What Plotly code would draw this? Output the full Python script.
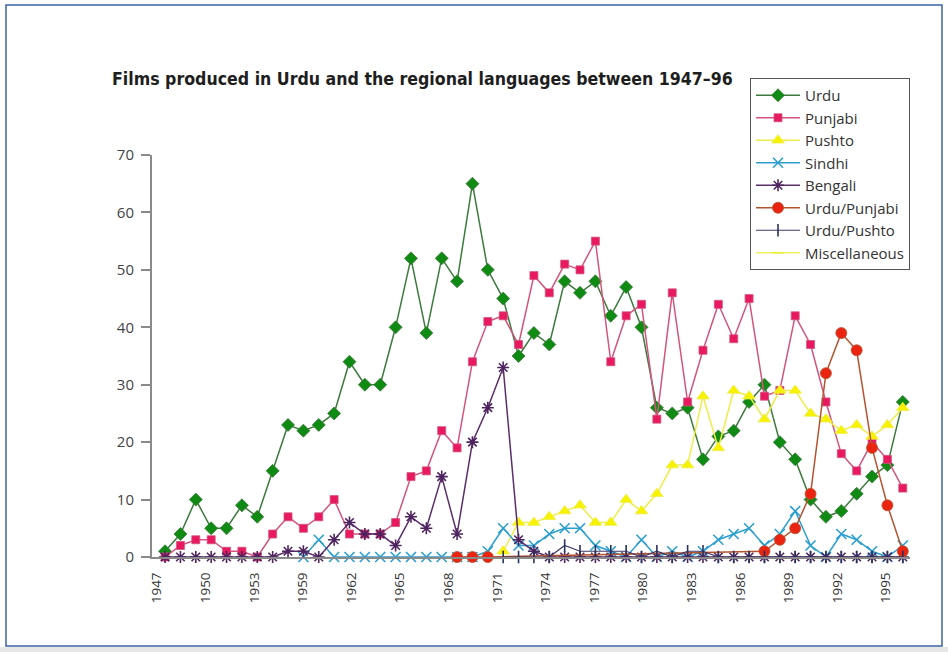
import plotly.graph_objects as go

years = [1947, 1948, 1949, 1950, 1951, 1952, 1953, 1954, 1955, 1956,
         1957, 1958, 1959, 1960, 1961, 1962, 1963, 1964, 1965, 1966,
         1967, 1968, 1969, 1970, 1971, 1972, 1973, 1974, 1975, 1976,
         1977, 1978, 1979, 1980, 1981, 1982, 1983, 1984, 1985, 1986,
         1987, 1988, 1989, 1990, 1991, 1992, 1993, 1994, 1995]

tick_labels = ["1947", "1950", "1953", "1959", "1962", "1965", "1968", "1971",
               "1974", "1977", "1980", "1983", "1986", "1989", "1992", "1995"]

N = None
urdu = [1, 4, 10, 5, 5, 9, 7, 15, 23, 22, 23, 25, 34, 30, 30, 40, 52, 39, 52, 48,
        65, 50, 45, 35, 39, 37, 48, 46, 48, 42, 47, 40, 26, 25, 26, 17, 21, 22, 27, 30,
        20, 17, 10, 7, 8, 11, 14, 16, 27]
punjabi = [0, 2, 3, 3, 1, 1, 0, 4, 7, 5, 7, 10, 4, 4, 4, 6, 14, 15, 22, 19,
           34, 41, 42, 37, 49, 46, 51, 50, 55, 34, 42, 44, 24, 46, 27, 36, 44, 38, 45, 28,
           29, 42, 37, 27, 18, 15, 20, 17, 12]
pushto = [N] * 22 + [1, 6, 6, 7, 8, 9, 6, 6, 10, 8, 11, 16, 16, 28, 19, 29, 28, 24,
                     29, 29, 25, 24, 22, 23, 21, 23, 26]
sindhi = [N] * 9 + [0, 3] + [0] * 10 + [1, 5, 2, 2, 4, 5, 5, 2, 1, 0, 3, 0, 1, 0, 1, 3,
                                        4, 5, 2, 4, 8, 2, 0, 4, 3, 1, 0, 2]
bengali = [0] * 8 + [1, 1, 0, 3, 6, 4, 4, 2, 7, 5, 14, 4, 20, 26, 33, 3, 1] + [0] * 24
urdu_punjabi = [N] * 19 + [0, 0, 0] + [N] * 17 + [1, 3, 5, 11, 32, 39, 36, 19, 9, 1]
urdu_pushto = [N] * 22 + [0, 0, 0, 0, 2, 1, 1, 1, 1, 0, 1, 0, 1, 1] + [0] * 13
misc = [N] * 49

# layout geometry (pixels)
W, H = 948, 652
ML, MR, MT, MB = 152, 38, 155, 95
PW, PH = W - ML - MR, H - MT - MB

def px_x(p):
    return (p - ML) / PW

def px_y(p):
    return (H - MB - p) / PH

# x range / tick placement matching the printed axis
x_lo, x_hi = 1946.15, 1995.47
tick_first, tick_step = 1946.48, 3.162
tickvals = [tick_first + tick_step * k for k in range(len(tick_labels))]

fig = go.Figure()

def add(name, y, color, line_color, symbol, size, open_sym=False, lw=1.5, connect=False):
    marker = dict(symbol=symbol, size=size, color=color)
    if open_sym:
        marker["line"] = dict(color=color, width=1.6)
    else:
        marker["line"] = dict(color=line_color, width=0.8)
    fig.add_trace(go.Scatter(
        x=years, y=y, name=name, mode="lines+markers",
        line=dict(color=line_color, width=lw),
        marker=marker, cliponaxis=False, connectgaps=connect))

add("Urdu", urdu, "#0f8a12", "#3d7a3d", "diamond", 10)
add("Punjabi", punjabi, "#e8195f", "#d2557e", "square", 8)
add("Pushto", pushto, "#f7f200", "#efec4a", "triangle-up", 11)
add("Sindhi", sindhi, "#2a9fd0", "#2a9fd0", "x-thin-open", 10, open_sym=True)
add("Bengali", bengali, "#4e2460", "#5a2e6a", "asterisk-open", 10, open_sym=True)
add("Urdu/Punjabi", urdu_punjabi, "#ea2410", "#b5532f", "circle", 11, connect=True)
add("Urdu/Pushto", urdu_pushto, "#27325e", "#3d3868", "line-ns-open", 9, open_sym=True, lw=1.2)
add("Miscellaneous", misc, "#eeee30", "#f0f060", "line-ew-open", 8, open_sym=True)

shapes = [
    dict(type="rect", xref="paper", yref="paper",
         x0=px_x(6), x1=px_x(942), y0=px_y(646), y1=px_y(5),
         line=dict(color="#3d63a6", width=1.5), fillcolor="rgba(0,0,0,0)", layer="below"),
    dict(type="rect", xref="paper", yref="paper",
         x0=px_x(0), x1=px_x(948), y0=px_y(652), y1=px_y(647),
         line=dict(width=0), fillcolor="#e6e6e6", layer="below"),
]

fig.update_layout(
    width=W, height=H,
    margin=dict(l=ML, r=MR, t=MT, b=MB),
    paper_bgcolor="white", plot_bgcolor="white",
    title=dict(text="Films produced in Urdu and the regional languages between 1947–96",
               x=112 / W, xref="container", xanchor="left",
               y=1 - 79 / H, yref="container", yanchor="middle",
               font=dict(family="DejaVu Sans Condensed, Liberation Sans Narrow, sans-serif",
                         size=17.6, color="#1e1e1e", weight="bold")),
    xaxis=dict(range=[x_lo, x_hi], tickmode="array", tickvals=tickvals, ticktext=tick_labels,
               tickangle=-90, showgrid=False, zeroline=False, showline=True,
               linecolor="#8a8a8a", linewidth=2, ticks="", ticklabelstandoff=8,
               tickfont=dict(family="Open Sans, sans-serif", size=13.5, color="#333")),
    yaxis=dict(range=[0, 70], dtick=10, showgrid=False, zeroline=False, showline=True,
               linecolor="#8a8a8a", linewidth=2, ticks="outside", ticklen=9,
               tickcolor="#8a8a8a", tickwidth=1.5, ticklabelstandoff=4,
               tickfont=dict(family="Open Sans, sans-serif", size=15, color="#444")),
    legend=dict(x=px_x(750), y=px_y(78), xanchor="left", yanchor="top",
                bgcolor="white", bordercolor="#555", borderwidth=1, itemwidth=44,
                font=dict(family="Open Sans, sans-serif", size=15, color="#333")),
    shapes=shapes,
)

fig.write_html("out.html", config={"displayModeBar": False},
               post_script="document.body.style.margin='0';")
